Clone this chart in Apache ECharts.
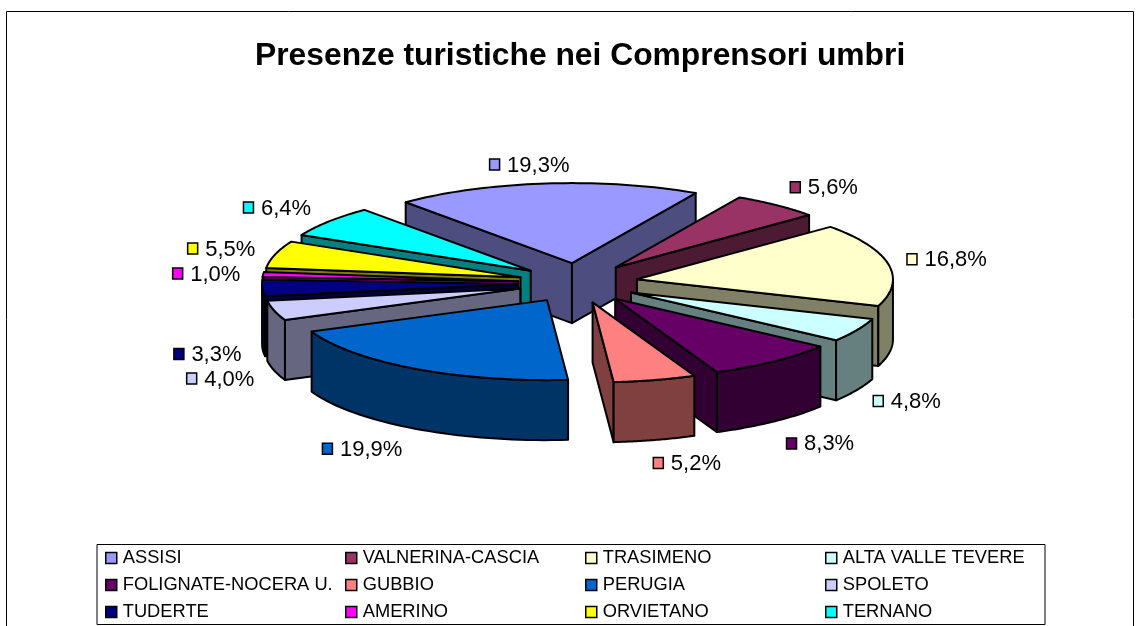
<!DOCTYPE html>
<html><head><meta charset="utf-8">
<style>html,body{margin:0;padding:0;background:#fff}#c{width:1139px;height:626px}</style>
<script src="https://cdn.jsdelivr.net/npm/echarts@6/dist/echarts.min.js"></script>
</head><body><div id="c"></div>
<script>
const categories = ['ASSISI','VALNERINA-CASCIA','TRASIMENO','ALTA VALLE TEVERE','FOLIGNATE-NOCERA U.','GUBBIO','PERUGIA','SPOLETO','TUDERTE','AMERINO','ORVIETANO','TERNANO'];
const shares = [19.3,5.6,16.8,4.8,8.3,5.2,19.9,4.0,3.3,1.0,5.5,6.4];
const colors = ['#9999FF','#993366','#FFFFCC','#CCFFFF','#660066','#FF8080','#0066CC','#CCCCFF','#000080','#FF00FF','#FFFF00','#00FFFF'];
const sideColors = ['#4D4D80','#4D1A33','#808066','#668080','#330033','#804040','#003366','#666680','#000040','#800080','#808000','#008080'];
// layout
const CX=578, CY=283, RX=256, RY=80, EX=60, EY=20, DEPTH=60, START=-40.5;
const labelNudge = [[-57,-19],[13,-18],[18,-5],[16,71],[12,82],[-2,83],[-93,80],[-88,68],[-89,66],[-91,-1],[-88,-6],[-86,-14]];
const LABEL_FONT='22px "Liberation Sans"';
const total = shares.reduce((a,b)=>a+b,0);
const spans=[]; { let a=START; shares.forEach(v=>{const d=v/total*360; spans.push([a,a+d]); a+=d;}); }
const rad=d=>d*Math.PI/180;
function wedge(i){
  const s=spans[i], mid=(s[0]+s[1])/2;
  const ax=CX+EX*Math.sin(rad(mid)), ay=CY-EY*Math.cos(rad(mid));
  const rim=t=>[ax+RX*Math.sin(rad(t)), ay-RY*Math.cos(rad(t))];
  return {s,mid,ax,ay,rim};
}
function poly(points,fill){
  return {type:'polygon',shape:{points},style:{fill,stroke:'#000',lineWidth:2,lineJoin:'round'}};
}
function renderSlice(i){
  return function(params,api){
    const w=wedge(i), val=api.value(0), kids=[];
    const p0=w.rim(w.s[0]), p1=w.rim(w.s[1]), a=[w.ax,w.ay], d=q=>[q[0],q[1]+DEPTH];
    // radial walls are drawn only when they face the viewer
    if(Math.sin(rad(w.s[0]))<0) kids.push(poly([a,p0,d(p0),d(a)],sideColors[i]));
    if(Math.sin(rad(w.s[1]))>0) kids.push(poly([a,p1,d(p1),d(a)],sideColors[i]));
    // outer wall: only the part of the rim that faces the viewer
    const lo=Math.max(w.s[0],90), hi=Math.min(w.s[1],270);
    if(hi>lo){
      const top=[]; for(let t=lo;t<=hi+1e-6;t+=Math.max((hi-lo)/40,0.2)) top.push(w.rim(t));
      kids.push(poly(top.concat(top.slice().reverse().map(d)),sideColors[i]));
    }
    const arc=[]; const n=48; for(let k=0;k<=n;k++) arc.push(w.rim(w.s[0]+(w.s[1]-w.s[0])*k/n));
    kids.push(poly([a].concat(arc),colors[i]));
    // data label: marker + percentage
    const rx=CX+(EX+RX)*Math.sin(rad(w.mid)), ry=CY-(EY+RY+0)*Math.cos(rad(w.mid));
    const lx=rx+labelNudge[i][0], ly=ry+labelNudge[i][1];
    kids.push({type:'rect',z2:50,shape:{x:lx+0.5,y:ly-5.5,width:10,height:11},style:{fill:colors[i],stroke:'#000',lineWidth:1.5}});
    kids.push({type:'text',z2:50,style:{x:lx+18,y:ly+1,text:val.toFixed(1).replace('.',',')+'%',font:LABEL_FONT,fill:'#000',verticalAlign:'middle',textAlign:'left'}});
    return {type:'group',children:kids};
  };
}
const series=categories.map((name,i)=>({
  type:'custom',name,coordinateSystem:'none',silent:true,animation:false,
  z:Math.round(100-100*Math.cos(rad(wedge(i).mid)))+10,
  itemStyle:{color:colors[i]},
  data:[[shares[i]]],
  renderItem:renderSlice(i)
}));
const COLS=[105,345,585,825];
const legends=COLS.map((left,c)=>({
  orient:'vertical',left,top:549,padding:0,icon:'rect',itemWidth:11,itemHeight:11,itemGap:9,itemStyle:{borderColor:'#000',borderWidth:1.5},
  textStyle:{fontFamily:'Liberation Sans',fontSize:18.3,color:'#000',padding:[0,0,0,1],lineHeight:17},
  selectedMode:false,z:200,
  data:[0,1,2].map(r=>categories[r*4+c])
}));
const chart=echarts.init(document.getElementById('c'),null,{renderer:'canvas'});
chart.setOption({
  animation:false,backgroundColor:'#fff',
  title:{text:'Presenze turistiche nei Comprensori umbri',left:255,top:40,padding:0,itemGap:0,
    textStyle:{fontFamily:'Liberation Sans',fontWeight:'bold',fontSize:31.8,color:'#000'}},
  legend:legends,
  graphic:[
    {type:'rect',z:-1,shape:{x:6.5,y:11.5,width:1127,height:640},style:{fill:'#fff',stroke:'#000',lineWidth:1}},
    {type:'rect',z:1,shape:{x:97,y:544.5,width:948,height:80},style:{fill:'#fff',stroke:'#000',lineWidth:1}}
  ],
  series
});
</script></body></html>
